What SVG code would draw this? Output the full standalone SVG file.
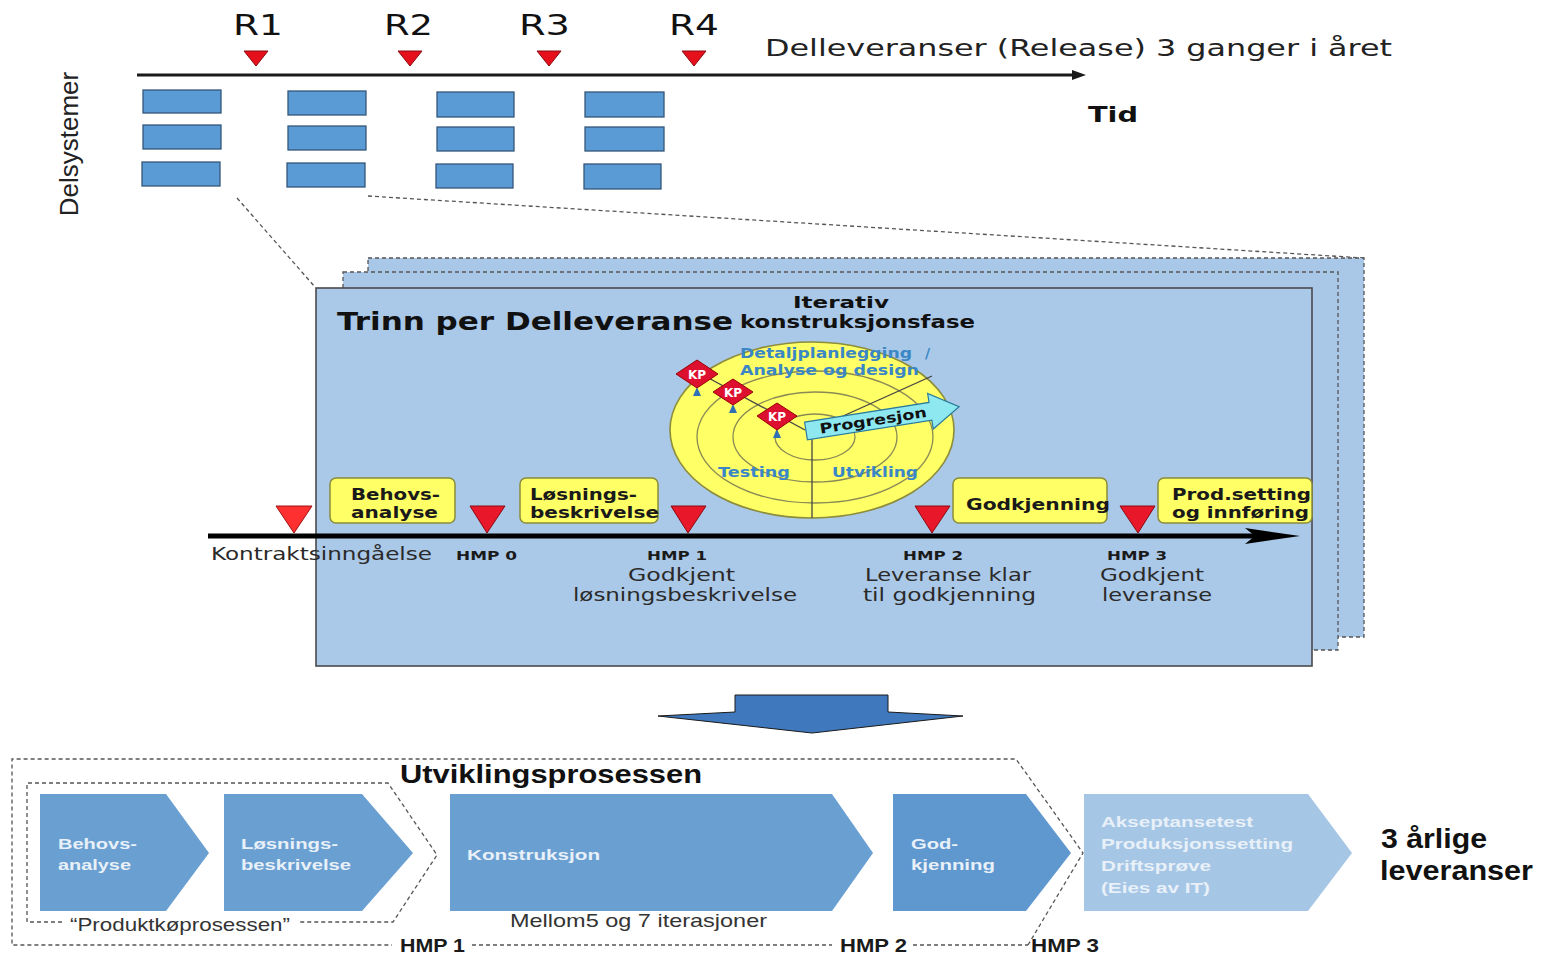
<svg xmlns="http://www.w3.org/2000/svg" width="1548" height="959" viewBox="0 0 1548 959">
<style>
.v{font-family:"DejaVu Sans",Verdana,sans-serif}
.a{font-family:"Liberation Sans",Arial,sans-serif}
.b{font-weight:bold}
.box{fill:#5b9bd5;stroke:#34577a;stroke-width:1.3}
.rt{fill:#e6101c;stroke:#8a0a10;stroke-width:1}
.rt2{fill:#e8182a;stroke:#8a0a10;stroke-width:1}
.dash{fill:none;stroke:#555;stroke-width:1.3;stroke-dasharray:4 3}
.slide{fill:#a9c7e6;stroke:#555;stroke-width:1.3;stroke-dasharray:4 3}
.yb{fill:#ffff66;stroke:#8c8c3a;stroke-width:1.5}
.yt{font-size:15px;fill:#1a1a1a}
.lbl{font-size:17px;fill:#2a2a2a}
.hmp{font-size:12px;fill:#1a1a1a}
.arc{fill:none;stroke:#8a8a55;stroke-width:1.3}
.kp{fill:#dd1030;stroke:#900;stroke-width:1}
.kpt{font-size:12px;fill:#fff;font-weight:bold}
.sp{font-size:14px;fill:#3b87c6}
.chev{fill:#6a9fd2}
.ct{font-size:15px;fill:#e8f0f8}
.bl{font-size:19px;fill:#333}
.bh{font-size:18px;fill:#1a1a1a}
</style>

<!-- connectors / timelines -->
<g id="connectors">
  <line x1="137" y1="75" x2="1075" y2="75" stroke="#1a1a1a" stroke-width="3"/>
  <polygon points="1072,70 1086,75 1072,80" fill="#1a1a1a"/>
  <line class="dash" x1="237" y1="198" x2="315" y2="287"/>
  <line class="dash" x1="368" y1="196" x2="1364" y2="258"/>
</g>

<!-- top release markers -->
<g id="releases">
  <text class="v" x="233" y="35" font-size="28" textLength="50" lengthAdjust="spacingAndGlyphs" fill="#111">R1</text>
  <text class="v" x="384" y="35" font-size="28" textLength="49" lengthAdjust="spacingAndGlyphs" fill="#111">R2</text>
  <text class="v" x="519" y="35" font-size="28" textLength="51" lengthAdjust="spacingAndGlyphs" fill="#111">R3</text>
  <text class="v" x="669" y="35" font-size="28" textLength="50" lengthAdjust="spacingAndGlyphs" fill="#111">R4</text>
  <polygon class="rt" points="244,51 268,51 256,66"/>
  <polygon class="rt" points="398,51 422,51 410,66"/>
  <polygon class="rt" points="537,51 561,51 549,66"/>
  <polygon class="rt" points="682,51 706,51 694,66"/>
  <text class="v" x="765" y="56" font-size="23" textLength="627" lengthAdjust="spacingAndGlyphs" fill="#222">Delleveranser (Release) 3 ganger i året</text>
  <text class="v b" x="1088" y="122" font-size="22" textLength="50" lengthAdjust="spacingAndGlyphs" fill="#111">Tid</text>
  <text class="a" transform="translate(78,144) rotate(-90)" text-anchor="middle" font-size="26" fill="#222">Delsystemer</text>
</g>

<g id="delsystemer">
  <rect class="box" x="143" y="90" width="78" height="23"/>
  <rect class="box" x="143" y="125" width="78" height="24"/>
  <rect class="box" x="142" y="162" width="78" height="24"/>
  <rect class="box" x="288" y="91" width="78" height="24"/>
  <rect class="box" x="288" y="126" width="78" height="24"/>
  <rect class="box" x="287" y="163" width="78" height="24"/>
  <rect class="box" x="437" y="92" width="77" height="25"/>
  <rect class="box" x="437" y="127" width="77" height="24"/>
  <rect class="box" x="436" y="164" width="77" height="24"/>
  <rect class="box" x="585" y="92" width="79" height="25"/>
  <rect class="box" x="585" y="127" width="79" height="24"/>
  <rect class="box" x="584" y="164" width="77" height="25"/>
</g>

<!-- stacked slides -->
<g id="slide-back"><rect class="slide" x="368" y="258" width="996" height="379"/></g>
<g id="slide-middle"><rect class="slide" x="343" y="272" width="995" height="378"/></g>
<g id="slide-front">
  <rect x="316" y="288" width="996" height="378" fill="#aac8e7" stroke="#4a4a4a" stroke-width="1.6"/>
  <text class="v b" x="337" y="330" font-size="24" textLength="396" lengthAdjust="spacingAndGlyphs" fill="#111">Trinn per Delleveranse</text>
  <text class="v b" x="841" y="308" font-size="16" text-anchor="middle" textLength="96" lengthAdjust="spacingAndGlyphs" fill="#111">Iterativ</text>
  <text class="v b" x="740" y="328" font-size="17" textLength="235" lengthAdjust="spacingAndGlyphs" fill="#111">konstruksjonsfase</text>
</g>

<!-- iterative spiral -->
<g id="spiral">
  <ellipse cx="812" cy="430" rx="142" ry="88" fill="#ffff66" stroke="#8c8c3a" stroke-width="1.6"/>
  <ellipse class="arc" cx="815" cy="437" rx="118" ry="66"/>
  <ellipse class="arc" cx="815" cy="437" rx="82" ry="45"/>
  <ellipse class="arc" cx="815" cy="437" rx="40" ry="23"/>
  <line x1="812" y1="437" x2="812" y2="518" stroke="#444" stroke-width="1.3"/>
  <line x1="812" y1="430" x2="932" y2="376" stroke="#444" stroke-width="1.3"/>
  <line x1="805" y1="430" x2="690" y2="368" stroke="#444" stroke-width="1.3"/>
  <text class="v b sp" x="740" y="358" textLength="172" lengthAdjust="spacingAndGlyphs">Detaljplanlegging</text>
  <text class="v b sp" x="925" y="358">/</text>
  <text class="v b sp" x="740" y="375" textLength="179" lengthAdjust="spacingAndGlyphs">Analyse og design</text>
  <text class="v b sp" x="718" y="477" textLength="72" lengthAdjust="spacingAndGlyphs">Testing</text>
  <text class="v b sp" x="832" y="477" textLength="86" lengthAdjust="spacingAndGlyphs">Utvikling</text>
  <polygon points="693,396 697,387 701,396" fill="#2e6fb5"/>
  <polygon points="729,413 733,404 737,413" fill="#2e6fb5"/>
  <polygon points="773,438 777,429 781,438" fill="#2e6fb5"/>
  <g id="kp1"><polygon class="kp" points="697,360 718,374 697,388 676,374"/><text class="v kpt" x="697" y="379" text-anchor="middle">KP</text></g>
  <g id="kp2"><polygon class="kp" points="733,379 753,392 733,405 713,392"/><text class="v kpt" x="733" y="397" text-anchor="middle">KP</text></g>
  <g id="kp3"><polygon class="kp" points="777,403 797,416 777,430 757,416"/><text class="v kpt" x="777" y="421" text-anchor="middle">KP</text></g>
  <g id="progresjon" transform="translate(806,431) rotate(-9)">
    <polygon points="0,-9 126,-9 126,-18 155,0 126,18 126,9 0,9" fill="#8ee8f0" stroke="#2a7a9a" stroke-width="1.2"/>
    <text class="v b" x="68" y="5" font-size="14" text-anchor="middle" textLength="108" lengthAdjust="spacingAndGlyphs" fill="#111">Progresjon</text>
  </g>
</g>

<!-- slide timeline -->
<g id="slide-timeline">
  <line x1="208" y1="536" x2="1255" y2="536" stroke="#000" stroke-width="5"/>
  <polygon points="1245,528 1300,536 1245,544 1255,536" fill="#000"/>
  <polygon points="276,506 312,506 294,533" fill="#ff3030" stroke="#a01010" stroke-width="1"/>
  <polygon class="rt2" points="470,506 505,506 487,533"/>
  <polygon class="rt2" points="671,506 706,506 688,533"/>
  <polygon class="rt2" points="915,506 950,506 932,533"/>
  <polygon class="rt2" points="1120,506 1155,506 1138,533"/>
</g>

<g id="yb-behov"><rect class="yb" x="330" y="478" width="125" height="45" rx="6"/>
  <text class="v b yt" x="351" y="500" textLength="89" lengthAdjust="spacingAndGlyphs">Behovs-</text>
  <text class="v b yt" x="351" y="518" textLength="87" lengthAdjust="spacingAndGlyphs">analyse</text></g>
<g id="yb-losning"><rect class="yb" x="520" y="478" width="138" height="45" rx="6"/>
  <text class="v b yt" x="530" y="500" textLength="107" lengthAdjust="spacingAndGlyphs">Løsnings-</text>
  <text class="v b yt" x="530" y="518" textLength="129" lengthAdjust="spacingAndGlyphs">beskrivelse</text></g>
<g id="yb-godkj"><rect class="yb" x="953" y="478" width="154" height="45" rx="6"/>
  <text class="v b yt" x="966" y="510" textLength="144" lengthAdjust="spacingAndGlyphs">Godkjenning</text></g>
<g id="yb-prod"><rect class="yb" x="1158" y="478" width="154" height="45" rx="6"/>
  <text class="v b yt" x="1172" y="500" textLength="139" lengthAdjust="spacingAndGlyphs">Prod.setting</text>
  <text class="v b yt" x="1172" y="518" textLength="137" lengthAdjust="spacingAndGlyphs">og innføring</text></g>

<g id="milestones">
  <text class="v lbl" x="211" y="560" textLength="221" lengthAdjust="spacingAndGlyphs">Kontraktsinngåelse</text>
  <text class="v b hmp" x="456" y="560" textLength="61" lengthAdjust="spacingAndGlyphs">HMP 0</text>
  <text class="v b hmp" x="647" y="560" textLength="60" lengthAdjust="spacingAndGlyphs">HMP 1</text>
  <text class="v lbl" x="628" y="581" textLength="107" lengthAdjust="spacingAndGlyphs">Godkjent</text>
  <text class="v lbl" x="573" y="601" textLength="224" lengthAdjust="spacingAndGlyphs">løsningsbeskrivelse</text>
  <text class="v b hmp" x="903" y="560" textLength="60" lengthAdjust="spacingAndGlyphs">HMP 2</text>
  <text class="v lbl" x="865" y="581" textLength="166" lengthAdjust="spacingAndGlyphs">Leveranse klar</text>
  <text class="v lbl" x="863" y="601" textLength="173" lengthAdjust="spacingAndGlyphs">til godkjenning</text>
  <text class="v b hmp" x="1107" y="560" textLength="60" lengthAdjust="spacingAndGlyphs">HMP 3</text>
  <text class="v lbl" x="1100" y="581" textLength="104" lengthAdjust="spacingAndGlyphs">Godkjent</text>
  <text class="v lbl" x="1102" y="601" textLength="110" lengthAdjust="spacingAndGlyphs">leveranse</text>
</g>

<!-- big down arrow -->
<g id="down-arrow">
  <polygon points="735,695 888,695 888,712 963,716 812,733 658,716 735,712" fill="#3f78bd" stroke="#1a1a1a" stroke-width="1"/>
</g>

<!-- bottom process -->
<g id="utviklingsprosessen">
  <polyline class="dash" points="1028,945 1083,853 1016,759 12,759 12,945 392,945"/>
  <line class="dash" x1="472" y1="945" x2="832" y2="945"/>
  <line class="dash" x1="913" y1="945" x2="1028" y2="945"/>
  <text class="a b" x="400" y="783" font-size="26" textLength="302" lengthAdjust="spacingAndGlyphs" fill="#111">Utviklingsprosessen</text>
  <text class="a b bh" x="400" y="952" textLength="65" lengthAdjust="spacingAndGlyphs">HMP 1</text>
  <text class="a b bh" x="840" y="952" textLength="67" lengthAdjust="spacingAndGlyphs">HMP 2</text>
  <text class="a b bh" x="1031" y="952" textLength="68" lengthAdjust="spacingAndGlyphs">HMP 3</text>
  <text class="a bl" x="510" y="927" textLength="257" lengthAdjust="spacingAndGlyphs">Mellom5 og 7 iterasjoner</text>
</g>
<g id="produktkoprosessen">
  <polyline class="dash" points="62,922 27,922 27,783 388,783 437,855 393,922 298,922"/>
  <text class="a bl" x="70" y="931" textLength="220" lengthAdjust="spacingAndGlyphs">“Produktkøprosessen”</text>
</g>
<g id="c-behov"><polygon class="chev" points="40,794 166,794 209,853 166,911 40,911"/>
  <text class="a b ct" x="58" y="849" textLength="79" lengthAdjust="spacingAndGlyphs">Behovs-</text>
  <text class="a b ct" x="58" y="870" textLength="73" lengthAdjust="spacingAndGlyphs">analyse</text></g>
<g id="c-losning"><polygon class="chev" points="224,794 362,794 413,853 362,911 224,911"/>
  <text class="a b ct" x="241" y="849" textLength="97" lengthAdjust="spacingAndGlyphs">Løsnings-</text>
  <text class="a b ct" x="241" y="870" textLength="110" lengthAdjust="spacingAndGlyphs">beskrivelse</text></g>
<g id="c-konstruksjon"><polygon class="chev" points="450,794 832,794 873,853 832,911 450,911"/>
  <text class="a b ct" x="467" y="860" textLength="133" lengthAdjust="spacingAndGlyphs">Konstruksjon</text></g>
<g id="c-godkj"><polygon points="893,794 1026,794 1071,853 1026,911 893,911" fill="#5f97cf"/>
  <text class="a b ct" x="911" y="849" textLength="47" lengthAdjust="spacingAndGlyphs">God-</text>
  <text class="a b ct" x="911" y="870" textLength="84" lengthAdjust="spacingAndGlyphs">kjenning</text></g>
<g id="c-aksept"><polygon points="1084,794 1308,794 1352,853 1308,911 1084,911" fill="#a6c6e6"/>
  <text class="a b ct" x="1101" y="827" fill="#e2ecf6" textLength="152" lengthAdjust="spacingAndGlyphs">Akseptansetest</text>
  <text class="a b ct" x="1101" y="849" fill="#e2ecf6" textLength="192" lengthAdjust="spacingAndGlyphs">Produksjonssetting</text>
  <text class="a b ct" x="1101" y="871" fill="#e2ecf6" textLength="110" lengthAdjust="spacingAndGlyphs">Driftsprøve</text>
  <text class="a b ct" x="1101" y="893" fill="#e2ecf6" textLength="109" lengthAdjust="spacingAndGlyphs">(Eies av IT)</text></g>
<g id="leveranser">
  <text class="a b" x="1381" y="848" font-size="27" textLength="106" lengthAdjust="spacingAndGlyphs" fill="#111">3 årlige</text>
  <text class="a b" x="1380" y="880" font-size="27" textLength="153" lengthAdjust="spacingAndGlyphs" fill="#111">leveranser</text>
</g>
</svg>
